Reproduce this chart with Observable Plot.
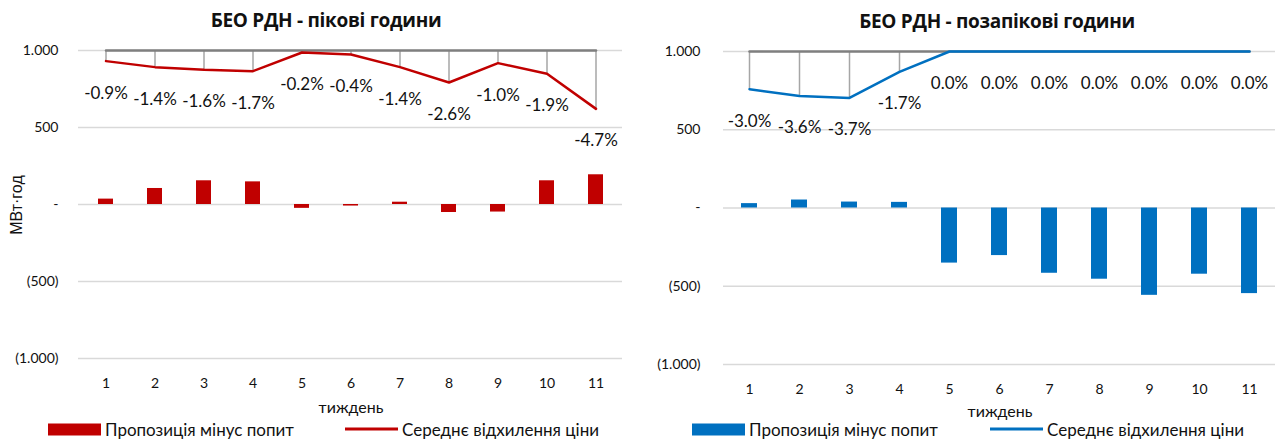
<!DOCTYPE html>
<html><head><meta charset="utf-8">
<script src="https://cdn.jsdelivr.net/npm/d3@7"></script>
<script src="https://cdn.jsdelivr.net/npm/@observablehq/plot@0.6"></script>
<style>
body{margin:0;background:#fff;}
#wrap{position:relative;width:1281px;height:439px;overflow:hidden;font-family:"Open Sans",sans-serif;color:#111;}
.panel{position:absolute;top:0;}
.title{position:absolute;font-weight:bold;font-size:19px;white-space:nowrap;transform:translate(-50%,-50%);letter-spacing:-0.3px;}
.xlab{position:absolute;font-size:16px;white-space:nowrap;transform:translate(-50%,-50%);font-family:Lato,sans-serif;}
.ylab{position:absolute;font-size:16px;white-space:nowrap;transform:translate(-50%,-50%) rotate(-90deg);font-family:"Liberation Sans",Arial,sans-serif;}
.leg{position:absolute;font-size:17px;white-space:nowrap;display:flex;align-items:center;transform:translateY(-50%);font-family:Lato,sans-serif;}
.sw{display:inline-block;width:53px;height:12px;margin-right:4px;}
.ln{display:inline-block;width:53px;height:3px;margin-right:4px;}
</style>
</head><body>
<div id="wrap"></div>
<script>
const weeks = [1,2,3,4,5,6,7,8,9,10,11];
const peakBalance = [35,104,154,147,-25,-10,15,-52,-49,154,193];
const peakLine = [931,892,875,866,987,974,892,792,918,849,621];
const peakDev = [-0.9,-1.4,-1.6,-1.7,-0.2,-0.4,-1.4,-2.6,-1.0,-1.9,-4.7];
const offBalance = [28,51,38,36,-352,-304,-417,-455,-558,-423,-547];
const offLine = [759,716,703,870,1000,1000,1000,1000,1000,1000,1000];
const offDev = [-3.0,-3.6,-3.7,-1.7,0.0,0.0,0.0,0.0,0.0,0.0,0.0];
const yTicks = [-1000,-500,0,500,1000];
const baseline = 1000;
const titles = ["БЕО РДН - пікові години","БЕО РДН - позапікові години"];
const seriesNames = ["Пропозиція мінус попит","Середнє відхилення ціни"];
const xTitle = "тиждень";
const yTitle = "МВт·год";
const colors = ["#c00000","#0070c0"];

const loc = d3.formatLocale({decimal:",",thousands:".",grouping:[3],currency:["",""]});
const f = loc.format(",");
const fmtY = d => d === 0 ? "-" : d < 0 ? `(${f(-d)})` : f(d);

function panel({balance, line, dev, color, width, height, marginLeft, marginRight, marginTop, marginBottom, pad}) {
  const rows = weeks.map((w,i)=>({week:w, balance:balance[i], line:line[i], dev:dev[i]}));
  return Plot.plot({
    width, height, marginLeft, marginRight, marginTop, marginBottom,
    style:{fontFamily:"Lato, sans-serif", background:"transparent", overflow:"visible", color:"#111"},
    x:{type:"band", domain:weeks, padding:0},
    y:{domain:[-1000,1000]},
    marks:[
      Plot.ruleY(yTicks, {stroke:"#d9d9d9", strokeWidth:1.5}),
      Plot.barY(rows, {x:"week", y:"balance", fill:color, insetLeft:17, insetRight:17}),
      Plot.ruleX(rows, {x:"week", y1:baseline, y2:"line", stroke:"#a6a6a6", strokeWidth:1.5}),
      Plot.line(rows, {x:"week", y:baseline, stroke:"#7f7f7f", strokeWidth:2.5}),
      Plot.line(rows, {x:"week", y:"line", stroke:color, strokeWidth:2.5}),
      Plot.text(rows, {x:"week", y:"line", text:d=>d.dev.toFixed(1)+"%", dy:32, fontSize:17, fill:"#111"}),
      Plot.axisY({ticks:yTicks, tickFormat:fmtY, tickSize:0, tickPadding:pad, fontSize:14, label:null}),
      Plot.axisX({tickSize:0, tickPadding:20, fontSize:14, label:null})
    ]
  });
}

const wrap = document.getElementById("wrap");
function add(el, left, top){ const d=document.createElement("div"); d.className="panel"; d.style.left=left+"px"; d.style.top=top+"px"; d.appendChild(el); wrap.appendChild(d); }

add(panel({balance:peakBalance, line:peakLine, dev:peakDev, color:colors[0], width:640, height:415, marginLeft:78, marginRight:18, marginTop:50, marginBottom:57, pad:20}), 0, 0);
add(panel({balance:offBalance, line:offLine, dev:offDev, color:colors[1], width:641, height:415, marginLeft:83, marginRight:6, marginTop:51, marginBottom:51, pad:23}), 640, 0);

function html(cls, text, x, y){ const d=document.createElement("div"); d.className=cls; d.textContent=text; d.style.left=x+"px"; d.style.top=y+"px"; wrap.appendChild(d); return d; }
html("title", titles[0], 326, 20);
html("title", titles[1], 997, 21);
html("xlab", xTitle, 351, 406);
html("xlab", xTitle, 1000, 410);
html("ylab", yTitle, 17, 205);

function legend(x1, x2, color){
  const a=document.createElement("div"); a.className="leg"; a.style.left=x1+"px"; a.style.top="429px";
  a.innerHTML=`<span class="sw" style="background:${color}"></span><span></span>`; a.lastChild.textContent=seriesNames[0]; wrap.appendChild(a);
  const b=document.createElement("div"); b.className="leg"; b.style.left=x2+"px"; b.style.top="429px";
  b.innerHTML=`<span class="ln" style="background:${color}"></span><span></span>`; b.lastChild.textContent=seriesNames[1]; wrap.appendChild(b);
}
legend(48, 345, colors[0]);
legend(692, 990, colors[1]);
</script>
</body></html>
